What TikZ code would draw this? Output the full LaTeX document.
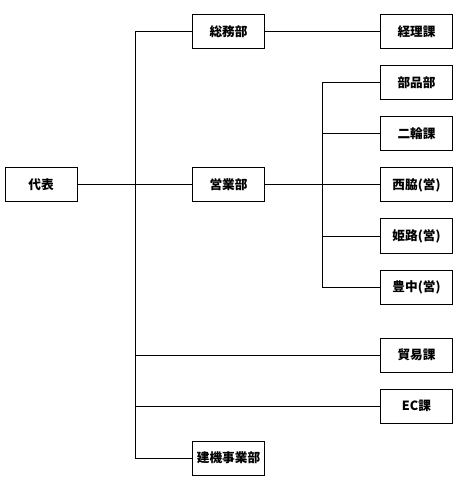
\documentclass[tikz,border=0pt]{standalone}
\usepackage{fontspec}
\setmainfont{Noto Sans CJK JP}
\usetikzlibrary{positioning}

\begin{document}
\begin{tikzpicture}[
    x=0.75pt,y=-0.75pt,
    node distance=12.75pt,
    box/.style={draw,line width=0.75pt,outer sep=0pt,minimum width=54pt,minimum height=25.5pt,inner sep=0pt,text height=8pt,text depth=1.5pt,font=\fontsize{9.5}{11}\selectfont\bfseries},
    link/.style={line width=0.75pt}
  ]
    \useasboundingbox (0,0) rectangle (472,491);
    % left and middle column
    \node[box] (daihyo) at (41,185) {代表};
    \node[box] (somu) at (228.5,32) {総務部};
    \node[box] (eigyo) at (228.5,185) {営業部};
    \node[box] (kenki) at (228.5,458.5) {建機事業部};
    % right column
    \node[box,right=87pt of somu] (keiri) {経理課};
    \node[box,below=of keiri] (buhin) {部品部};
    \node[box,below=of buhin] (nirin) {二輪課};
    \node[box,below=of nirin] (nishiwaki) {西脇(営)};
    \node[box,below=of nishiwaki] (himeji) {姫路(営)};
    \node[box,below=of himeji] (toyonaka) {豊中(営)};
    \node[box,below=25.5pt of toyonaka] (boeki) {貿易課};
    \node[box,below=of boeki] (ec) {EC課};
    \coordinate (trunk) at (135,0);
    \coordinate (sub) at (322,0);
    % main trunk
    \draw[link] (daihyo) -- (eigyo);
    \draw[link] (somu.west) -- (somu.west -| trunk) -- (kenki.west -| trunk) -- (kenki.west);
    \draw[link] (boeki.west) -- (boeki.west -| trunk);
    \draw[link] (ec.west) -- (ec.west -| trunk);
    \draw[link] (somu) -- (keiri);
    % sales branch
    \draw[link] (eigyo) -- (nishiwaki);
    \draw[link] (buhin.west) -- (buhin.west -| sub) -- (toyonaka.west -| sub) -- (toyonaka.west);
    \draw[link] (nirin.west) -- (nirin.west -| sub);
    \draw[link] (himeji.west) -- (himeji.west -| sub);
  \end{tikzpicture}
\end{document}
